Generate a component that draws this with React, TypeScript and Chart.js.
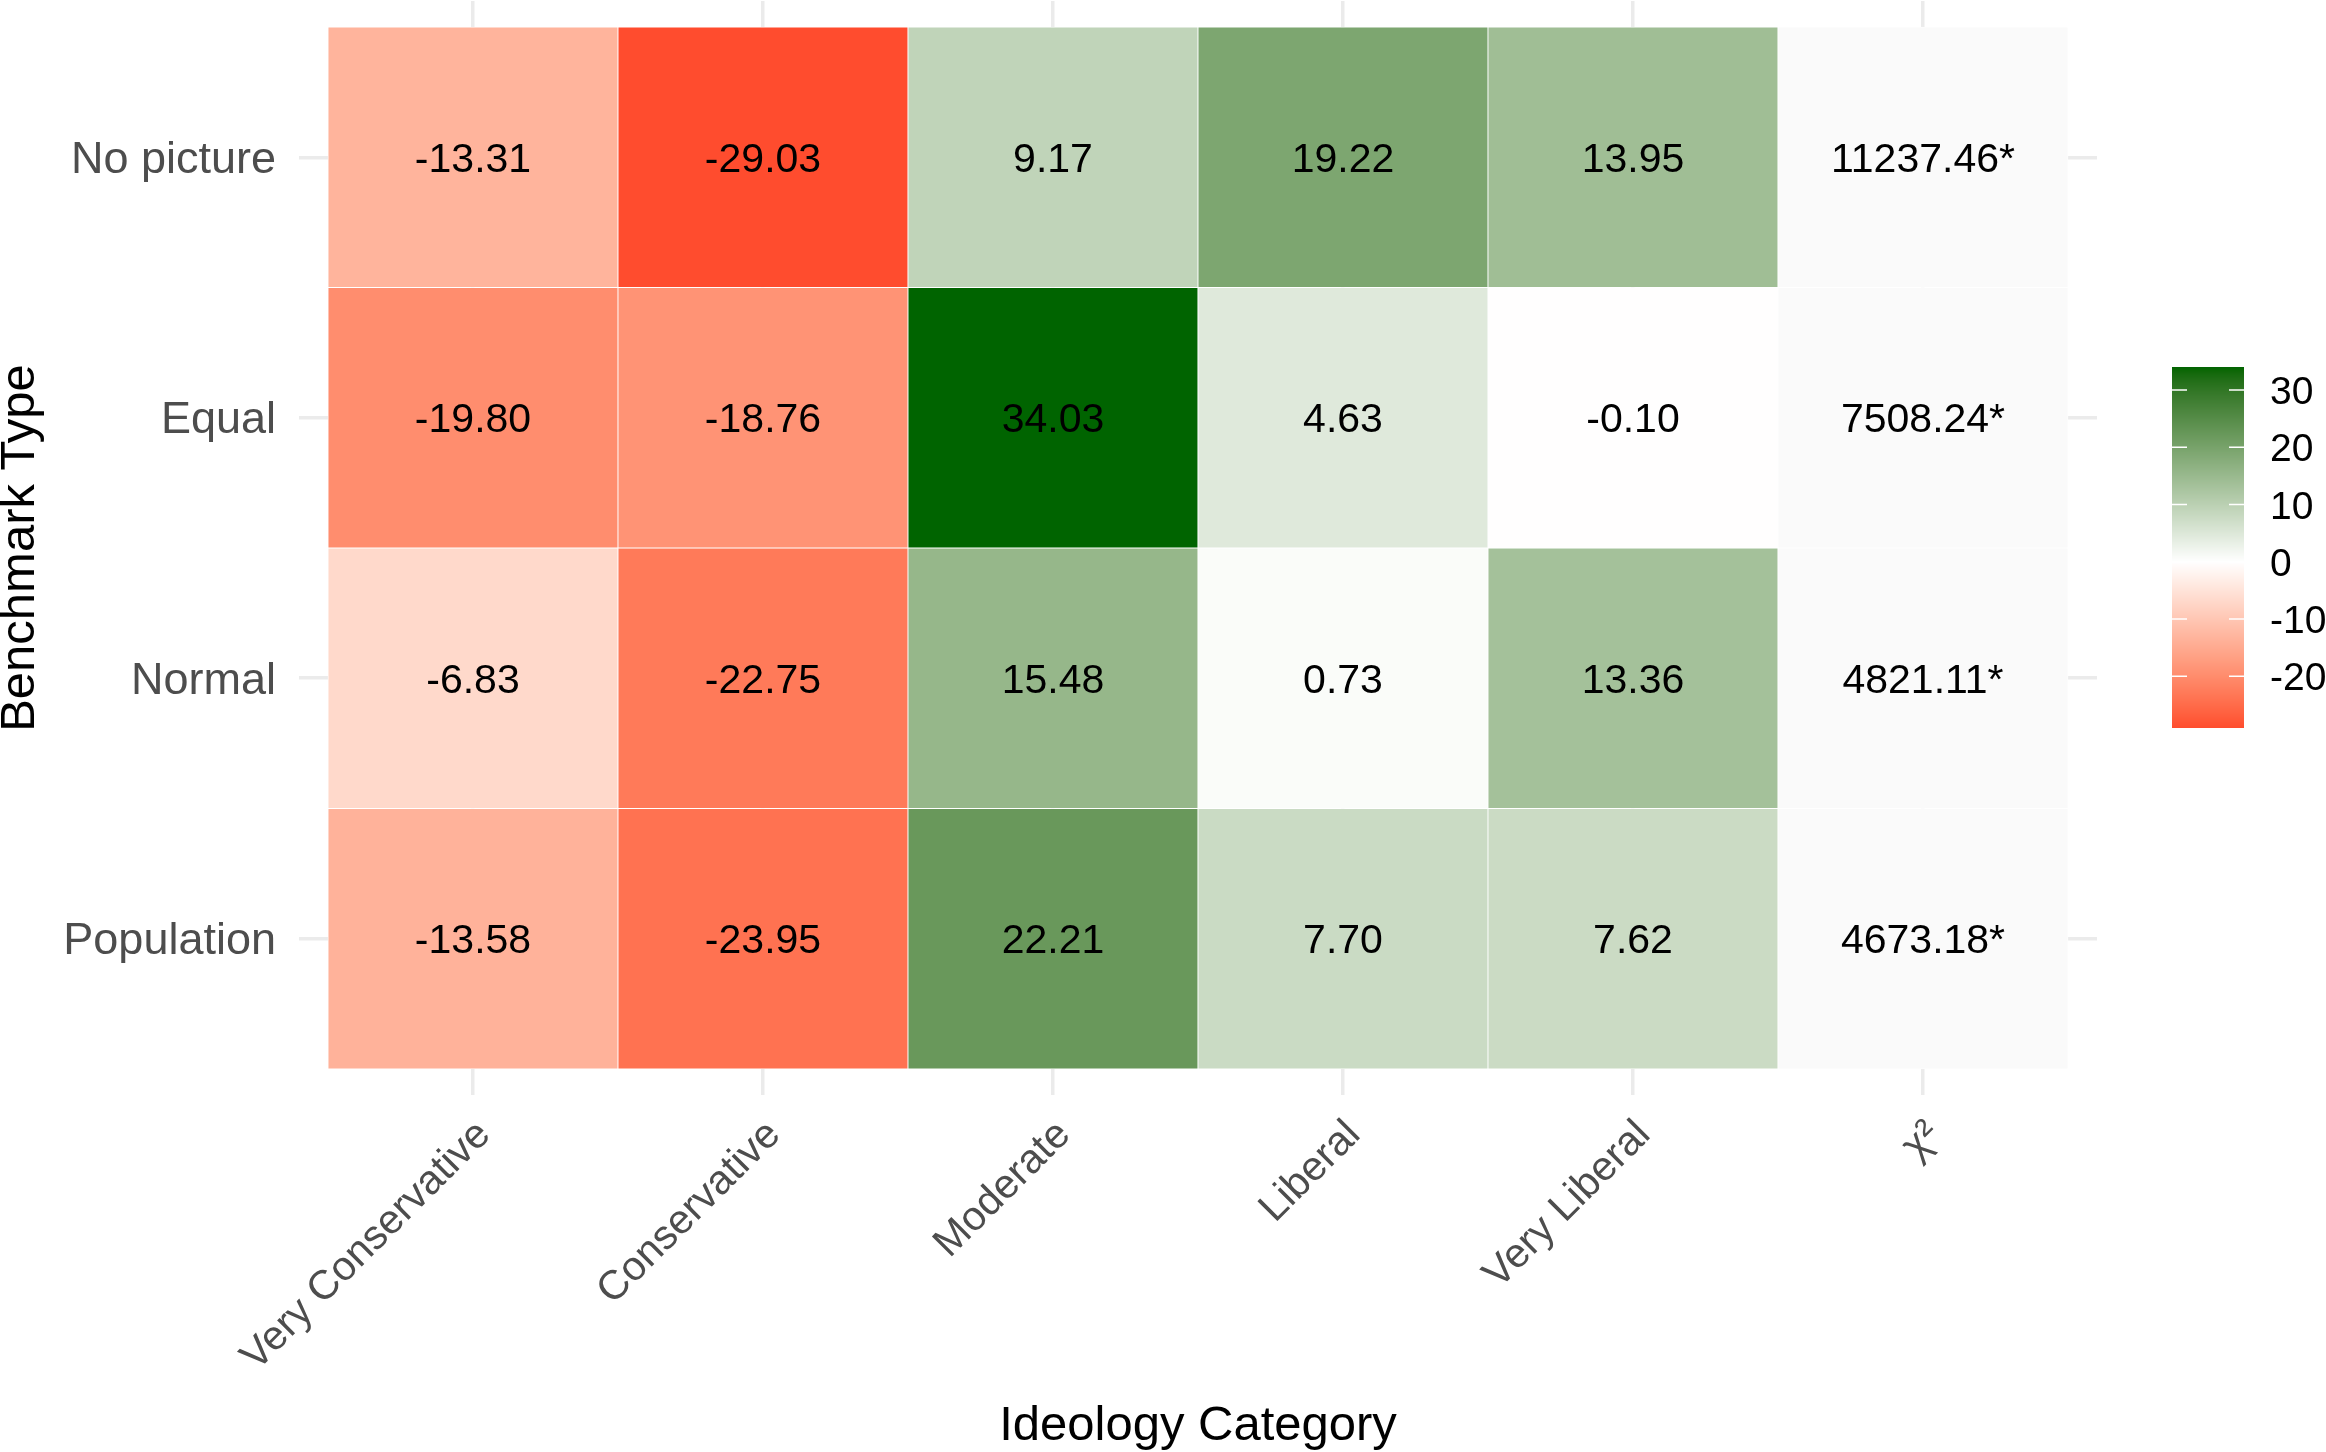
import React, { useEffect, useRef } from "react";
import { Chart, registerables } from "chart.js";

Chart.register(...registerables);

// ---------- data ----------
const columns = ["Very Conservative", "Conservative", "Moderate", "Liberal", "Very Liberal", "χ²"];
const rows = ["No picture", "Equal", "Normal", "Population"];
const noPicture = [-13.31, -29.03, 9.17, 19.22, 13.95];
const equal = [-19.8, -18.76, 34.03, 4.63, -0.1];
const normal = [-6.83, -22.75, 15.48, 0.73, 13.36];
const population = [-13.58, -23.95, 22.21, 7.7, 7.62];
const chiSquare = [11237.46, 7508.24, 4821.11, 4673.18];
const legendTicks = [30, 20, 10, 0, -10, -20];

const rowValues = [noPicture, equal, normal, population];

const FONT = "'Liberation Sans', Arial, Helvetica, sans-serif";
const LOW = "#FF0000";
const MID = "#FFFFFF";
const HIGH = "#006400";
const CHI_FILL = "#FAFAFA";

// ---------- colour scale (Lab interpolation, like scale_fill_gradient2) ----------
function s2l(c: number) {
  c /= 255;
  return c <= 0.04045 ? c / 12.92 : Math.pow((c + 0.055) / 1.055, 2.4);
}
function l2s(c: number) {
  const v = c <= 0.0031308 ? 12.92 * c : 1.055 * Math.pow(c, 1 / 2.4) - 0.055;
  return Math.round(Math.max(0, Math.min(1, v)) * 255);
}
const Xn = 0.95047, Yn = 1.0, Zn = 1.08883;
function f(t: number) {
  return t > 216 / 24389 ? Math.cbrt(t) : (24389 / 27 * t + 16) / 116;
}
function finv(t: number) {
  return t * t * t > 216 / 24389 ? t * t * t : (116 * t - 16) / (24389 / 27);
}
function hexToLab(hex: string) {
  const r = s2l(parseInt(hex.slice(1, 3), 16));
  const g = s2l(parseInt(hex.slice(3, 5), 16));
  const b = s2l(parseInt(hex.slice(5, 7), 16));
  const X = 0.4124564 * r + 0.3575761 * g + 0.1804375 * b;
  const Y = 0.2126729 * r + 0.7151522 * g + 0.072175 * b;
  const Z = 0.0193339 * r + 0.119192 * g + 0.9503041 * b;
  const fx = f(X / Xn), fy = f(Y / Yn), fz = f(Z / Zn);
  return [116 * fy - 16, 500 * (fx - fy), 200 * (fy - fz)];
}
function labToRgb(L: number, a: number, b: number) {
  const fy = (L + 16) / 116;
  const fx = fy + a / 500;
  const fz = fy - b / 200;
  const X = Xn * finv(fx), Y = Yn * finv(fy), Z = Zn * finv(fz);
  const r = 3.2404542 * X - 1.5371385 * Y - 0.4985314 * Z;
  const g = -0.969266 * X + 1.8760108 * Y + 0.041556 * Z;
  const bb = 0.0556434 * X - 0.2040259 * Y + 1.0572252 * Z;
  return `rgb(${l2s(r)},${l2s(g)},${l2s(bb)})`;
}
const labLow = hexToLab(LOW), labMid = hexToLab(MID), labHigh = hexToLab(HIGH);
const allValues = rowValues.flat();
const dataMin = Math.min(...allValues);
const dataMax = Math.max(...allValues);
const absMax = Math.max(Math.abs(dataMin), Math.abs(dataMax));

function colorFor(v: number) {
  const t = v / absMax / 2 + 0.5;
  let A: number[], B: number[], u: number;
  if (t < 0.5) { A = labLow; B = labMid; u = t / 0.5; }
  else { A = labMid; B = labHigh; u = (t - 0.5) / 0.5; }
  return labToRgb(A[0] + (B[0] - A[0]) * u, A[1] + (B[1] - A[1]) * u, A[2] + (B[2] - A[2]) * u);
}

// ---------- plugins ----------
const cellLabels = {
  id: "cellLabels",
  afterDatasetsDraw(chart: any) {
    const ctx = chart.ctx;
    ctx.save();
    ctx.font = `41px ${FONT}`;
    ctx.fillStyle = "#000000";
    ctx.textAlign = "center";
    ctx.textBaseline = "alphabetic";
    chart.data.datasets.forEach((ds: any, i: number) => {
      const meta = chart.getDatasetMeta(i);
      meta.data.forEach((el: any, j: number) => {
        const p = el.getCenterPoint();
        const text = j < rowValues[i].length ? rowValues[i][j].toFixed(2) : chiSquare[i].toFixed(2) + "*";
        ctx.fillText(text, p.x, p.y + 41 * 0.358);
      });
    });
    ctx.restore();
  },
};

const colorBar = {
  id: "colorBar",
  afterDraw(chart: any) {
    const ctx = chart.ctx;
    const x0 = 2172, x1 = 2244, yTop = 367, yBot = 728;
    const toY = (v: number) => yBot - ((v - dataMin) / (dataMax - dataMin)) * (yBot - yTop);
    ctx.save();
    for (let y = yTop; y < yBot; y++) {
      const v = dataMax - ((y + 0.5 - yTop) / (yBot - yTop)) * (dataMax - dataMin);
      ctx.fillStyle = colorFor(v);
      ctx.fillRect(x0, y, x1 - x0, 1);
    }
    ctx.strokeStyle = "#FFFFFF";
    ctx.lineWidth = 1.5;
    ctx.fillStyle = "#000000";
    ctx.font = `39px ${FONT}`;
    ctx.textAlign = "left";
    ctx.textBaseline = "alphabetic";
    legendTicks.forEach((t) => {
      const y = toY(t);
      ctx.beginPath();
      ctx.moveTo(x0, y); ctx.lineTo(x0 + 15, y);
      ctx.moveTo(x1 - 15, y); ctx.lineTo(x1, y);
      ctx.stroke();
      ctx.fillText(String(t), 2270, y + 39 * 0.358);
    });
    ctx.restore();
  },
};

export default function App() {
  const ref = useRef<HTMLCanvasElement | null>(null);
  useEffect(() => {
    if (!ref.current) return;
    const datasets = rows.map((r, i) => ({
      label: r,
      data: [
        ...rowValues[i].map((_, j) => ({ x: j, y: [i - 0.5, i + 0.5] })),
        { x: columns.length - 1, y: [i - 0.5, i + 0.5] },
      ],
      backgroundColor: [...rowValues[i].map(colorFor), CHI_FILL],
      borderColor: "#FFFFFF",
      borderWidth: 0.8,
      borderSkipped: false,
      barPercentage: 1,
      categoryPercentage: 1,
    }));
    const chart = new Chart(ref.current, {
      type: "bar",
      data: { datasets } as any,
      plugins: [cellLabels, colorBar],
      options: {
        animation: false,
        responsive: false,
        devicePixelRatio: 1,
        layout: { padding: { left: 0, top: 1, right: 229, bottom: 0 } },
        plugins: { legend: { display: false }, tooltip: { enabled: false } },
        scales: {
          x: {
            type: "linear",
            min: -0.6,
            max: columns.length - 0.4,
            offset: false,
            stacked: true,
            grid: { color: "#EBEBEB", lineWidth: 3.5, drawTicks: false, offset: false },
            border: { display: false },
            afterBuildTicks: (axis: any) => {
              axis.ticks = columns.map((_, i) => ({ value: i }));
            },
            afterFit: (axis: any) => {
              axis.height = 357;
              axis.paddingLeft = 0;
              axis.paddingRight = 0;
            },
            ticks: {
              autoSkip: false,
              minRotation: 45,
              maxRotation: 45,
              padding: 16,
              labelOffset: 11,
              color: "#4D4D4D",
              font: { family: FONT, size: 41 },
              callback: (v: any) => columns[Number(v)] ?? "",
            },
            title: {
              display: true,
              text: "Ideology Category",
              color: "#000000",
              font: { family: FONT, size: 49, lineHeight: 1 },
              padding: { top: 0, bottom: 1 },
            },
          },
          y: {
            type: "linear",
            reverse: true,
            min: -0.6,
            max: rows.length - 0.4,
            stacked: false,
            grid: { color: "#EBEBEB", lineWidth: 3.5, drawTicks: false },
            border: { display: false },
            afterBuildTicks: (axis: any) => {
              axis.ticks = rows.map((_, i) => ({ value: i }));
            },
            afterFit: (axis: any) => {
              axis.width = 299;
              axis.paddingTop = 0;
              axis.paddingBottom = 0;
            },
            ticks: {
              padding: 23,
              labelOffset: 3,
              color: "#4D4D4D",
              font: { family: FONT, size: 45 },
              callback: (v: any) => rows[Number(v)] ?? "",
            },
            title: {
              display: true,
              text: "Benchmark Type",
              color: "#000000",
              font: { family: FONT, size: 49, lineHeight: 1 },
              padding: { top: -4.5, bottom: 0 },
            },
          },
        },
      } as any,
    });
    return () => chart.destroy();
  }, []);
  return (
    <div style={{ position: "fixed", left: 0, top: 0, width: 2326, height: 1452, background: "#FFFFFF" }}>
      <canvas ref={ref} width={2326} height={1452} style={{ display: "block" }} />
    </div>
  );
}
